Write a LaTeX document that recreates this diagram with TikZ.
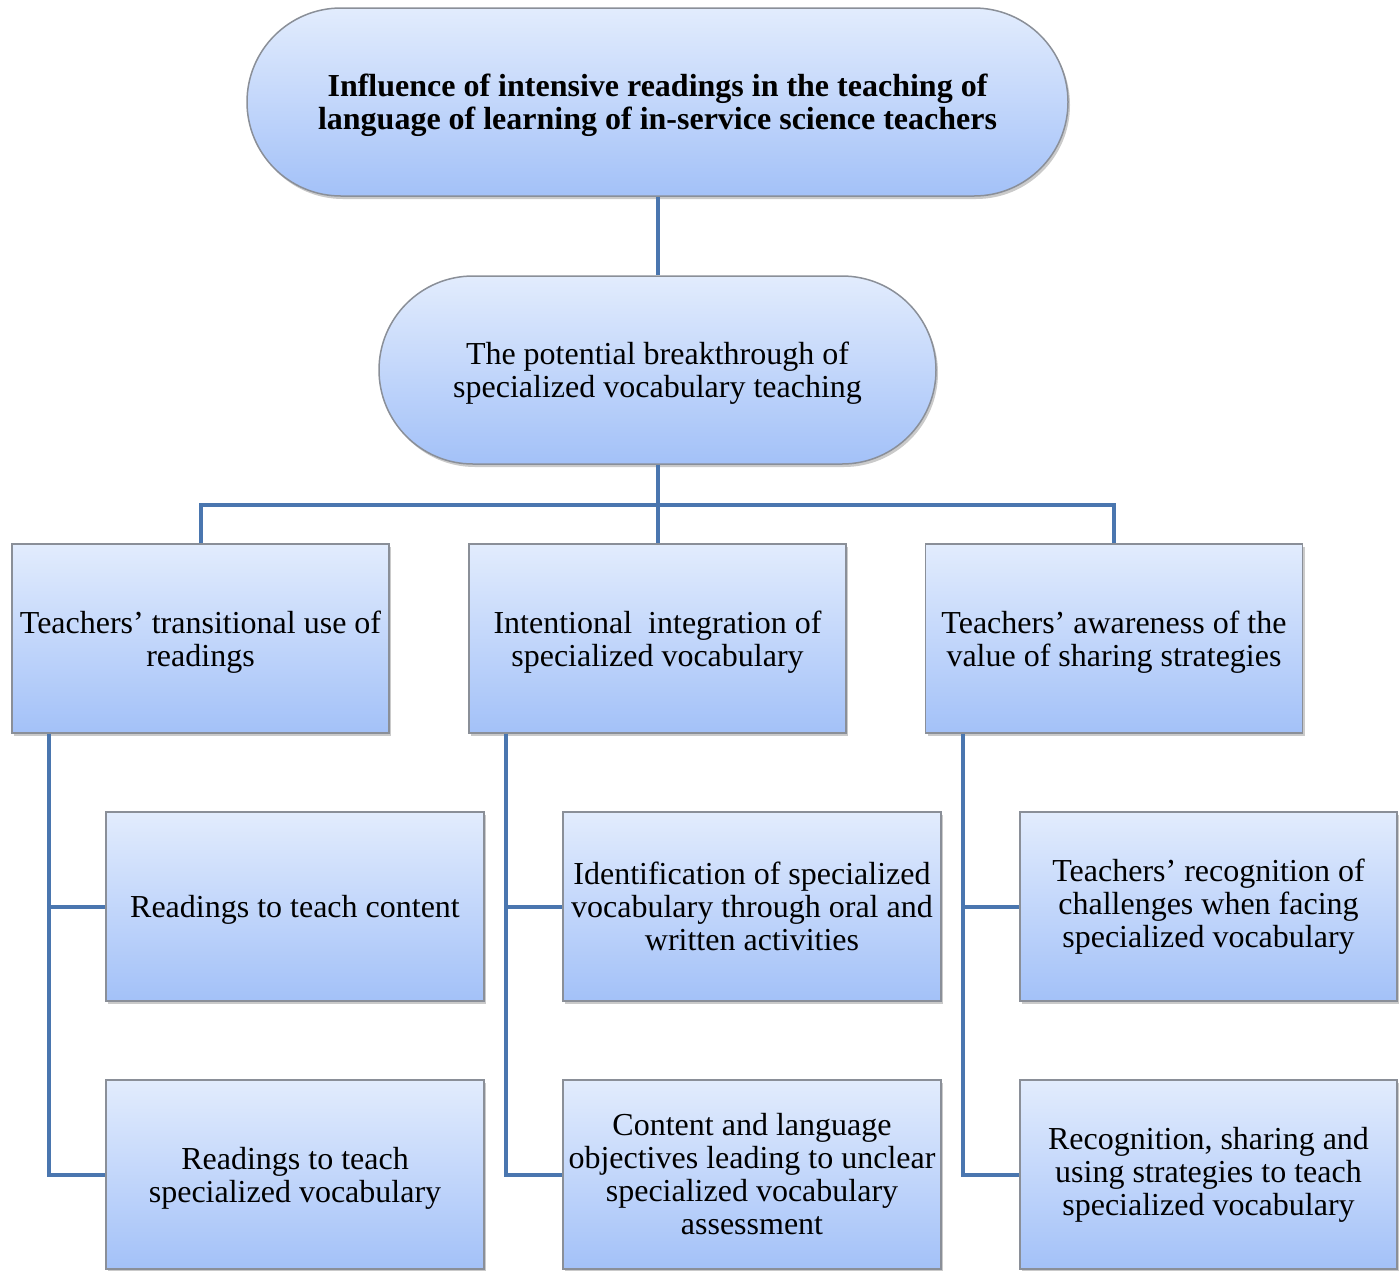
\documentclass[tikz,border=0pt]{standalone}
\usepackage{fontspec}
\setmainfont{Liberation Serif}
\usetikzlibrary{shadows}
\definecolor{topc}{HTML}{E2ECFD}
\definecolor{botc}{HTML}{A3C1F8}
\definecolor{linec}{HTML}{4A76AF}
\definecolor{edgec}{HTML}{8A8F98}
\begin{document}
\begin{tikzpicture}[x=1pt,y=-1pt,
  base/.style={draw=edgec, line width=1.5pt, top color=topc, bottom color=botc,
    inner sep=0pt,
    drop shadow={shadow xshift=2pt, shadow yshift=-3pt, opacity=0.35, fill=black!60}},
  txt/.style={align=center, inner sep=0pt, yshift=-3.5pt, font=\fontsize{32}{33}\selectfont},
  txtm/.style={txt, yshift=3.5pt},
  btxt/.style={txt, font=\fontsize{32}{33}\selectfont\bfseries},
  stadium/.style={base, rounded corners=94pt, minimum height=188pt},
  boxnode/.style={base, minimum width=377pt, minimum height=189pt},
  conn/.style={draw=linec, line width=4pt}]
\useasboundingbox (0,0) rectangle (1400,1270);
% nodes
\node[stadium, minimum width=821pt,
  label={[btxt]center:{Influence of intensive readings in the teaching of\\language of learning of in-service science teachers}}] (top) at (657.5,102) {};
\node[stadium, minimum width=557pt,
  label={[txt]center:{The potential breakthrough of\\specialized vocabulary teaching}}] (mid) at (657.5,370) {};
\node[boxnode, label={[txt]center:{Teachers’ transitional use of\\readings}}] (b1) at (200.5,638.5) {};
\node[boxnode, label={[txt]center:{Intentional~ integration of\\specialized vocabulary}}] (b2) at (657.5,638.5) {};
\node[boxnode, label={[txt]center:{Teachers’ awareness of the\\value of sharing strategies}}] (b3) at (1114,638.5) {};
\node[boxnode, minimum width=378pt, label={[txt]center:{Readings to teach content}}] (c11) at (295,906.5) {};
\node[boxnode, minimum width=378pt, label={[txt]center:{Readings to teach\\specialized vocabulary}}] (c12) at (295,1174.5) {};
\node[boxnode, minimum width=378pt, label={[txtm]center:{Identification of specialized\\vocabulary through oral and\\written activities}}] (c21) at (752,906.5) {};
\node[boxnode, minimum width=378pt, label={[txtm]center:{Content and language\\objectives leading to unclear\\specialized vocabulary\\assessment}}] (c22) at (752,1174.5) {};
\node[boxnode, label={[txtm]center:{Teachers’ recognition of\\challenges when facing\\specialized vocabulary}}] (c31) at (1208.5,906.5) {};
\node[boxnode, label={[txtm]center:{Recognition, sharing and\\using strategies to teach\\specialized vocabulary}}] (c32) at (1208.5,1174.5) {};
% connectors
\coordinate (bus) at (657.5,505);
\draw[conn] (top.south) -- (mid.north);
\draw[conn] (mid.south) -- (b2.north);
\draw[conn] (b1.north) |- (bus) -| (b3.north);
\coordinate (s1) at ([xshift=38pt]b1.south west);
\coordinate (s2) at ([xshift=38pt]b2.south west);
\coordinate (s3) at ([xshift=38pt]b3.south west);
\draw[conn] (s1) |- (c12.west);
\draw[conn] (s1 |- c11.west) -- (c11.west);
\draw[conn] (s2) |- (c22.west);
\draw[conn] (s2 |- c21.west) -- (c21.west);
\draw[conn] (s3) |- (c32.west);
\draw[conn] (s3 |- c31.west) -- (c31.west);
\end{tikzpicture}
\end{document}
